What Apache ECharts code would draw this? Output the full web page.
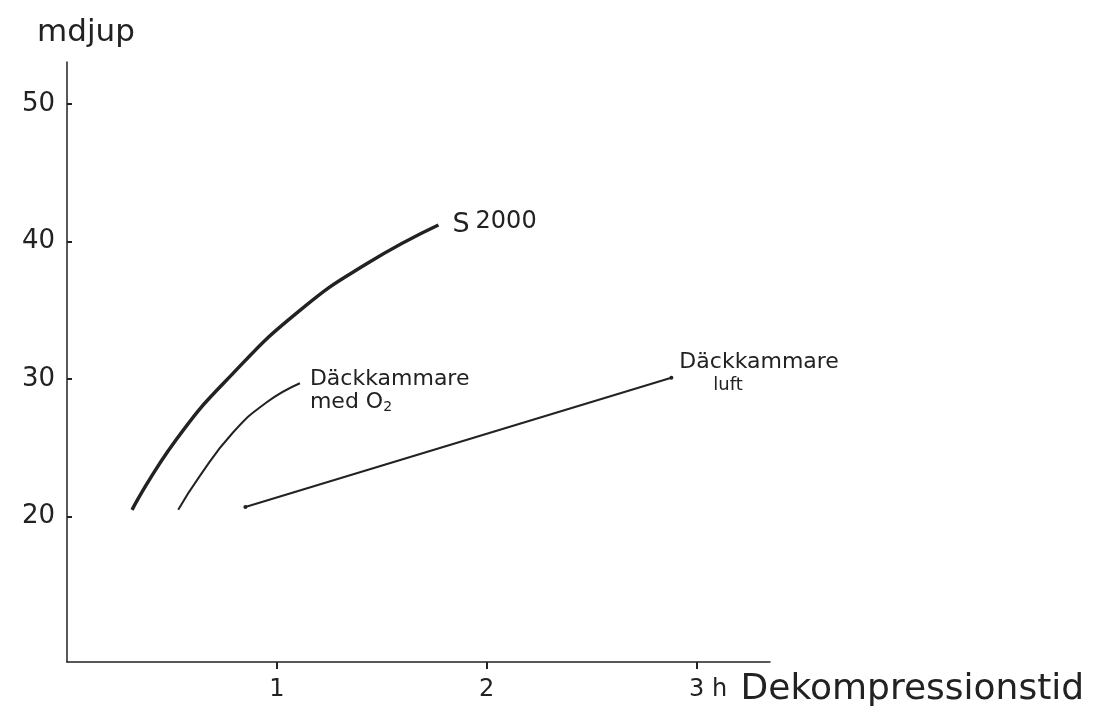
<!DOCTYPE html>
<html>
<head>
<meta charset="utf-8">
<title>Dekompressionstid</title>
<script src="https://cdn.jsdelivr.net/npm/echarts@6/dist/echarts.min.js"></script>
<style>
  html, body { margin: 0; padding: 0; background: #fff; }
  #main { width: 1120px; height: 711px; }
</style>
</head>
<body>
<div id="main"></div>
<script>
// data: [timme, meter djup]
var s2000 = [[0.31, 20.5], [0.52, 25.6], [0.79, 30.4], [1.11, 35.0], [1.43, 38.4], [1.77, 41.2]];
var medO2 = [[0.53, 20.5], [0.63, 22.9], [0.79, 26.1], [0.95, 28.3], [1.11, 29.7]];
var luft = [[0.85, 20.7], [2.88, 30.1]];

var yTicks = [20, 30, 40, 50];
var xTicks = [1, 2, 3];

var ink = '#222';
var font = 'DejaVu Sans';

var chart = echarts.init(document.getElementById('main'));

var option = {
  backgroundColor: '#fff',
  animation: false,
  grid: { left: 67, right: 350, top: 62, bottom: 49 },
  xAxis: {
    type: 'value',
    min: 0,
    max: 3.35,
    name: '{h|h}    {d|Dekompressionstid}',
    nameLocation: 'end',
    nameGap: -58,
    nameTextStyle: {
      padding: [56, 0, 0, 0],
      rich: {
        h: { fontSize: 24, color: ink, fontFamily: font },
        d: { fontSize: 36, color: ink, fontFamily: font }
      }
    },
    axisLine: { lineStyle: { color: ink, width: 1.5 } },
    axisTick: { show: true, customValues: xTicks, length: 7, lineStyle: { color: ink, width: 2 } },
    axisLabel: { customValues: xTicks, margin: 16, fontSize: 24, color: ink, fontFamily: font },
    splitLine: { show: false }
  },
  yAxis: {
    type: 'value',
    min: 9.44,
    max: 53.05,
    name: 'mdjup',
    nameLocation: 'end',
    nameGap: 14,
    nameTextStyle: { fontSize: 31, color: ink, fontFamily: font, padding: [0, 0, 0, 38] },
    axisLine: { lineStyle: { color: ink, width: 1.5 } },
    axisTick: { show: true, customValues: yTicks, inside: true, length: 5, lineStyle: { color: ink, width: 2 } },
    axisLabel: { customValues: yTicks, margin: 12, fontSize: 26, color: ink, fontFamily: font },
    splitLine: { show: false }
  },
  series: [
    {
      name: 'S2000',
      type: 'line',
      data: s2000,
      smooth: true,
      showSymbol: false,
      lineStyle: { color: ink, width: 3.5 },
      endLabel: {
        show: true,
        formatter: '{s|S}{n|2000}',
        distance: 14,
        rich: {
          s: { fontSize: 27, color: ink, fontFamily: font },
          n: { fontSize: 24, color: ink, fontFamily: font, padding: [0, 0, 6, 6] }
        }
      }
    },
    {
      name: 'Däckkammare med O2',
      type: 'line',
      data: medO2,
      smooth: true,
      showSymbol: false,
      lineStyle: { color: ink, width: 2 },
      endLabel: {
        show: true,
        formatter: '{a|Däckkammare}\n{a|med O}{s|2}',
        distance: 10,
        offset: [0, 8],
        rich: {
          a: { fontSize: 22, color: ink, fontFamily: font, lineHeight: 22 },
          s: { fontSize: 14, color: ink, fontFamily: font, padding: [10, 0, 0, 0] }
        }
      }
    },
    {
      name: 'Däckkammare luft',
      type: 'line',
      data: luft,
      showSymbol: true,
      symbol: 'circle',
      symbolSize: 4,
      itemStyle: { color: ink },
      lineStyle: { color: ink, width: 2 },
      endLabel: {
        show: true,
        formatter: '{a|Däckkammare}\n{b|luft}',
        distance: 8,
        offset: [0, -4],
        rich: {
          a: { fontSize: 22, color: ink, fontFamily: font, lineHeight: 23 },
          b: { fontSize: 18, color: ink, fontFamily: font, lineHeight: 23, padding: [0, 0, 0, 34] }
        }
      }
    }
  ]
};

chart.setOption(option);
</script>
</body>
</html>
